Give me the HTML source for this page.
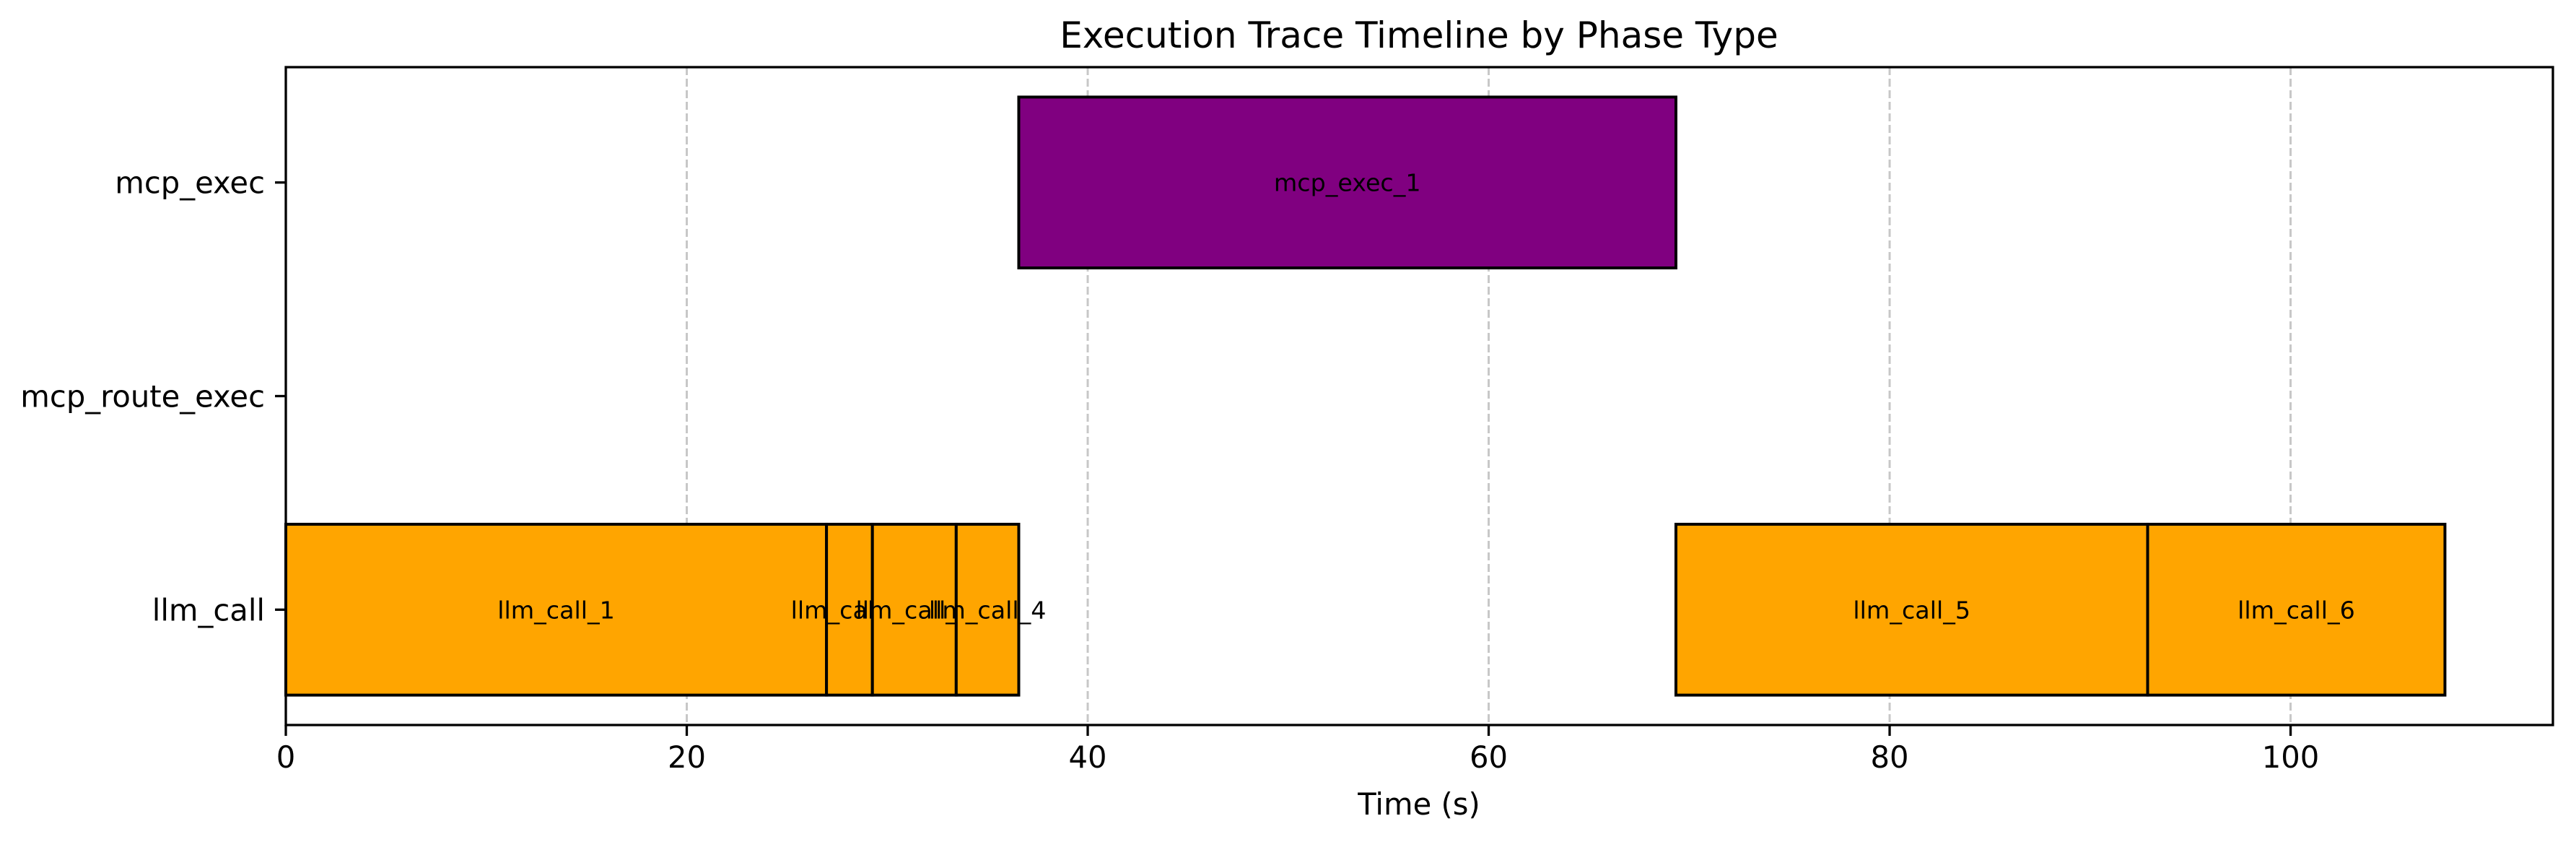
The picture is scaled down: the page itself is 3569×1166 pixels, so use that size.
<!DOCTYPE html>
<html><head><meta charset="utf-8"><style>
html,body{margin:0;padding:0;background:#fff;}
svg{display:block;font-family:"DejaVu Sans","Liberation Sans",sans-serif;}
</style></head><body>
<svg id="chart" width="3569" height="1166" viewBox="0 0 3569 1166" xmlns="http://www.w3.org/2000/svg">
<rect width="3569" height="1166" fill="#fff"/>
<text x="1966" y="66" font-size="50" text-anchor="middle">Execution Trace Timeline by Phase Type</text>
<g id="grid"></g>
<g id="bars"></g>
<g id="axes"></g>
<text x="1966" y="1128" font-size="41.7" text-anchor="middle">Time (s)</text>
</svg>
<script>
const categories = ["llm_call", "mcp_route_exec", "mcp_exec"];
const phaseNames = ["llm_call_1","llm_call_2","llm_call_3","llm_call_4","mcp_exec_1","llm_call_5","llm_call_6"];
const phaseCategory = ["llm_call","llm_call","llm_call","llm_call","mcp_exec","llm_call","llm_call"];
const phaseStart = [0, 26.97, 29.26, 33.44, 36.56, 69.34, 92.87];
const phaseEnd = [26.97, 29.26, 33.44, 36.56, 69.34, 92.87, 107.7];
const xTicks = [0, 20, 40, 60, 80, 100];
const colorMap = {llm_call: "#FFA500", mcp_exec: "#800080", mcp_route_exec: "#1f77b4"};

const NS = "http://www.w3.org/2000/svg";
const L = 396, R = 3537, T = 93, B = 1004;
const xMax = Math.max(...phaseEnd) * 1.05;
const yMin = -0.54, yMax = categories.length - 1 + 0.54;
const xs = v => L + (v / xMax) * (R - L);
const ys = v => B - (v - yMin) / (yMax - yMin) * (B - T);
function mk(tag, attrs, parent) {
  const e = document.createElementNS(NS, tag);
  for (const k in attrs) e.setAttribute(k, attrs[k]);
  parent.appendChild(e);
  return e;
}
const grid = document.getElementById('grid');
const bars = document.getElementById('bars');
const axes = document.getElementById('axes');

xTicks.forEach(t => {
  const x = xs(t);
  const g = mk('line', {x1: x, x2: x, y1: T, y2: B, stroke: '#b0b0b0', 'stroke-width': 3, 'stroke-dasharray': '11,5', opacity: 0.7}, grid);
  
  
  const tk = mk('line', {x1: x, x2: x, y1: B, y2: B + 15, stroke: '#000', 'stroke-width': 3.3}, axes);
  
  
  const lb = mk('text', {x: x, y: B + 59, 'font-size': 41.7, 'text-anchor': 'middle'}, axes);
  lb.textContent = t;
  
  
});

categories.forEach((c, i) => {
  const y = ys(i);
  const tk = mk('line', {x1: L - 15, x2: L, y1: y, y2: y, stroke: '#000', 'stroke-width': 3.3}, axes);
  
  
  const lb = mk('text', {x: L - 29, y: y + 15, 'font-size': 41.7, 'text-anchor': 'end'}, axes);
  lb.textContent = c;
  
  
});

phaseNames.forEach((n, i) => {
  const ci = categories.indexOf(phaseCategory[i]);
  const x0 = xs(phaseStart[i]), x1 = xs(phaseEnd[i]);
  const y0 = ys(ci + 0.4), y1 = ys(ci - 0.4);
  const r = mk('rect', {x: x0, y: y0, width: x1 - x0, height: y1 - y0, fill: colorMap[phaseCategory[i]], stroke: '#000', 'stroke-width': 4}, bars);
  
  
  const t = mk('text', {x: (x0 + x1) / 2, y: ys(ci) + 12, 'font-size': 33.3, 'text-anchor': 'middle'}, bars);
  t.textContent = n;
  
  
});

const frame = mk('rect', {x: L, y: T, width: R - L, height: B - T, fill: 'none', stroke: '#000', 'stroke-width': 3.3}, axes);


</script>
</body></html>
